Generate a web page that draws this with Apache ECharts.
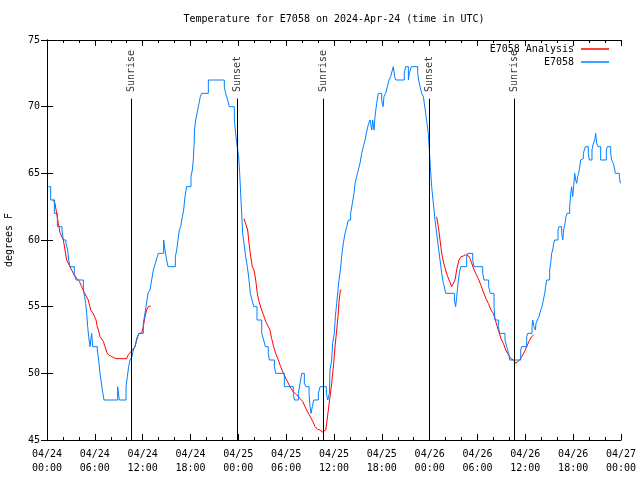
<!DOCTYPE html>
<html><head><meta charset="utf-8">
<script src="https://cdn.jsdelivr.net/npm/echarts@6/dist/echarts.min.js"></script>
<style>html,body{margin:0;padding:0;background:#fff}#c{width:640px;height:480px}</style>
</head><body><div id="c"></div>
<script>
const titleText = 'Temperature for E7058 on 2024-Apr-24 (time in UTC)';
const yAxisName = 'degrees F';
const xTickLabels = ['04/24\n00:00','04/24\n06:00','04/24\n12:00','04/24\n18:00','04/25\n00:00','04/25\n06:00','04/25\n12:00','04/25\n18:00','04/26\n00:00','04/26\n06:00','04/26\n12:00','04/26\n18:00','04/27\n00:00'];
const analysisName = 'E7058 Analysis';
const stationName = 'E7058';

// hours since 2024-04-24 00:00 UTC, degrees F
const redDay1 = [[0.79,63.05],[1.0,62.75],[1.21,62],[1.42,61.25],[1.63,60.55],[1.88,60.4],[2.05,60],[2.26,59.25],[2.47,58.5],[2.72,58.2],[2.97,57.9],[3.22,57.6],[3.51,57.25],[3.81,57.1],[4.06,56.9],[4.35,56.5],[4.64,56.1],[4.89,56.05],[5.18,55.5],[5.48,54.75],[5.73,54.55],[5.94,54.4],[6.15,54],[6.31,53.5],[6.52,53.1],[6.65,52.75],[6.82,52.6],[7.07,52.4],[7.28,52],[7.48,51.6],[7.7,51.4],[7.99,51.3],[8.32,51.2],[8.66,51.1],[10.0,51.1],[10.2,51.4],[10.5,51.6],[10.75,51.75],[11.04,52],[11.33,52.75],[11.58,53],[11.87,53],[12.08,53.5],[12.29,54.25],[12.5,54.75],[12.71,55],[13.0,55.05]];
const redDay2 = [[24.71,61.6],[25.17,60.75],[25.34,59.75],[25.55,58.75],[25.76,58],[25.97,57.75],[26.18,57],[26.38,56],[26.59,55.4],[26.84,54.9],[27.14,54.4],[27.43,53.9],[27.76,53.5],[27.97,53.25],[28.18,52.6],[28.43,52],[28.68,51.5],[29.02,51],[29.31,50.5],[29.65,50],[30.06,49.5],[30.48,49],[30.9,48.6],[31.32,48.4],[31.74,48.1],[32.07,47.9],[32.36,47.5],[32.7,47.1],[33.03,46.75],[33.33,46.4],[33.62,46],[33.95,45.8],[34.25,45.75],[34.54,45.6],[34.79,45.55],[34.96,45.75],[35.08,46.25],[35.29,47.25],[35.5,48.25],[35.71,49.25],[35.96,50.75],[36.13,52],[36.34,53.25],[36.5,54.25],[36.63,55.4],[36.8,56.25],[36.92,56.25]];
const redDay3 = [[48.88,61.75],[49.09,61],[49.3,60],[49.51,59],[49.76,58.25],[50.01,57.75],[50.26,57.25],[50.51,56.9],[50.76,56.5],[50.93,56.4],[51.18,57],[51.43,57.9],[51.68,58.5],[51.93,58.75],[52.22,58.8],[52.52,58.9],[52.77,58.95],[52.98,58.75],[53.19,58.4],[53.48,57.9],[53.77,57.5],[54.1,57.1],[54.44,56.6],[54.73,56.1],[55.07,55.6],[55.36,55.25],[55.7,54.75],[55.99,54.5],[56.28,53.9],[56.61,53.25],[56.95,52.6],[57.24,52.25],[57.54,51.75],[57.87,51.4],[58.2,51.1],[58.54,51],[58.79,50.75],[59.04,50.75],[59.29,51],[59.54,51.25],[59.88,51.6],[60.17,52],[60.46,52.4],[60.8,52.75],[61.05,52.9]];

const blueDay1 = [[0.17,64],[0.46,63],[0.92,62],[1.3,61],[1.88,60.75],[2.05,60],[2.38,59.75],[2.59,59.25],[2.72,58.5],[2.88,58],[3.43,57.5],[3.64,57],[4.56,56.25],[4.72,55.75],[4.85,55.25],[4.98,54.5],[5.1,53.5],[5.23,52.75],[5.39,52],[5.6,53],[5.73,52],[6.31,51.75],[6.48,51],[6.6,50.25],[6.77,49.5],[6.94,48.75],[7.15,48],[8.86,49],[9.07,48],[9.91,49],[10.08,49.75],[10.24,50.5],[10.41,51],[10.66,51.25],[10.83,51.75],[11.04,52],[11.25,52.5],[11.5,53],[12.08,53.75],[12.29,54.5],[12.42,55],[12.67,56],[12.92,56.25],[13.13,57],[13.34,57.75],[13.59,58.25],[13.84,58.75],[13.96,59],[14.63,60],[14.8,59.25],[15.01,58.5],[15.18,58],[16.1,58.75],[16.27,59.25],[16.43,60],[16.6,60.75],[16.77,61],[16.98,61.75],[17.14,62.25],[17.31,63.25],[17.52,64],[18.06,64.75],[18.23,65.25],[18.35,66],[18.44,67],[18.5,68.25],[18.65,69],[18.9,69.75],[19.07,70.25],[19.23,70.75],[19.4,71],[20.24,72],[22.24,71.5],[22.41,71],[22.66,70.5],[22.87,70],[23.5,69],[23.62,68.25],[23.75,67.5],[23.92,66.75]];
const blueDay2 = [[24.04,66.25],[24.17,65],[24.29,63.5],[24.42,62],[24.54,60.5],[24.71,59.75],[24.92,58.75],[25.13,58],[25.34,57],[25.51,56],[25.72,55.5],[25.93,55],[26.34,54],[26.93,53],[27.18,52.5],[27.39,52],[27.76,51.5],[27.89,51],[28.52,50.5],[28.68,50],[29.77,49],[30.9,48.5],[31.03,48],[31.53,48.5],[31.74,49.25],[31.95,50],[32.28,49.25],[32.49,49],[32.87,48.5],[32.99,47.5],[33.12,47],[33.28,47.5],[33.45,48],[34.04,48.5],[34.25,49],[35.04,48.5],[35.21,48],[35.42,48.5],[35.5,50.25],[35.71,51],[35.83,52.25],[36.04,53],[36.17,54.25],[36.34,55.25],[36.5,56.25],[36.63,57],[36.8,57.75],[36.96,58.75],[37.17,59.75],[37.38,60.5],[37.59,61],[37.8,61.5],[38.09,62],[38.3,62.75],[38.51,63.5],[38.64,64.25],[38.84,64.75],[39.05,65.25],[39.26,65.75],[39.47,66.5],[39.68,67],[39.89,67.5],[40.14,68.25],[40.35,68.75],[40.52,69],[40.73,68.25],[40.85,69],[41.02,68.25],[41.14,69.25],[41.35,70.25],[41.56,71],[41.98,70.5],[42.15,70],[42.27,70.75],[42.48,71],[42.69,71.5],[42.9,72],[43.11,72.25],[43.32,72.75],[43.44,73],[43.61,72.25],[43.74,72],[44.82,72.5],[44.99,73],[45.33,72],[45.45,72.5],[45.7,73],[46.5,72.5],[46.62,72],[46.79,71.5],[47.0,71],[47.21,70.75],[47.33,70.25],[47.5,69.5],[47.67,68.75],[47.83,68]];
const blueDay3 = [[47.96,66.75],[48.08,65.5],[48.25,64],[48.42,63],[48.67,61.5],[48.88,60.5],[49.09,59.5],[49.3,58.5],[49.51,57.5],[49.72,56.75],[49.93,56.25],[50.01,56],[51.1,55.5],[51.26,55],[51.39,55.75],[51.56,56.75],[51.72,57.5],[51.89,58],[52.64,58.75],[52.77,59],[53.4,58.5],[53.56,58],[54.65,57.5],[54.82,57],[55.4,56.5],[55.61,56],[56.07,55],[56.2,54],[56.61,53.5],[56.78,53],[57.45,52.5],[57.66,52],[57.91,51.5],[58.04,51],[59.42,51.75],[59.54,52],[60.17,52.75],[60.3,53],[60.84,53.5],[60.92,54],[61.09,53.5],[61.26,53.25],[61.34,53.75],[61.51,54],[61.72,54.25],[61.93,54.75],[62.09,55],[62.26,55.5],[62.43,56],[62.55,56.5],[62.68,57],[63.05,57.75],[63.18,58.25],[63.3,59],[63.43,59.25],[63.56,59.75],[63.68,60],[64.1,60.75],[64.23,61],[64.56,60.5],[64.69,60],[64.81,60.75],[64.98,61.25],[65.1,61.75],[65.23,62],[65.56,62.5],[65.69,63.5],[65.81,64],[65.94,63.25],[66.06,64],[66.19,65],[66.32,64.5],[66.44,64.25],[66.57,64.75],[66.69,65],[66.82,65.5],[66.94,66],[67.11,66.1],[67.28,66.5],[67.4,66.75],[67.53,67],[67.9,66.5],[68.03,66],[68.36,66.75],[68.53,67.25],[68.7,67.5],[68.82,68],[68.95,67.25],[69.12,67],[69.45,66],[70.16,66.75],[70.29,67],[70.71,66.5],[70.83,66],[71.04,65.75],[71.17,65.4],[71.29,65],[71.79,64.75],[71.92,64.25],[72,64.25]];

const eventHours = [10.58, 23.88, 34.64, 47.96, 58.6];
const eventNames = ['Sunrise', 'Sunset', 'Sunrise', 'Sunset', 'Sunrise'];
const eventLineTop = 70.6;
const eventLabelBase = 71.1;

const FONT = '"DejaVu Sans Mono", "Liberation Mono", monospace';
const txt = {fontFamily: FONT, fontSize: 10, color: '#000'};

const redData = redDay1.concat([[18, '-']], redDay2, [[42, '-']], redDay3);
const blueData = blueDay1.concat(blueDay2, blueDay3);

const axisCommonX = {
  type: 'value', min: 0, max: 72, interval: 6,
  axisLine: {show: true, lineStyle: {color: '#000', width: 1}},
  axisTick: {show: true, inside: true, length: 6, lineStyle: {color: '#000'}},
  minorTick: {show: true, splitNumber: 3, length: 3, lineStyle: {color: '#000'}},
  splitLine: {show: false}, minorSplitLine: {show: false}
};
const axisCommonY = {
  type: 'value', min: 45, max: 75, interval: 5,
  axisLine: {show: true, lineStyle: {color: '#000', width: 1}},
  axisTick: {show: true, inside: true, length: 6, lineStyle: {color: '#000'}},
  splitLine: {show: false}
};

const legendCommon = {right: 31, align: 'right', orient: 'vertical', padding: 0,
  icon: 'rect', itemWidth: 28, itemHeight: 1.5,
  textStyle: Object.assign({padding: [0, 2, 0, 0]}, txt)};

const chart = echarts.init(document.getElementById('c'), null, {renderer: 'canvas'});
chart.setOption({
  animation: false,
  backgroundColor: '#fff',
  title: {text: titleText, left: 334, top: 14, textAlign: 'center', padding: 0,
    textStyle: Object.assign({fontWeight: 'normal'}, txt)},
  legend: [
    Object.assign({data: [analysisName], top: 44}, legendCommon),
    Object.assign({data: [stationName], top: 57}, legendCommon)
  ],
  grid: {left: 47, right: 19, top: 40, bottom: 40, containLabel: false, outerBoundsMode: 'none'},
  xAxis: [
    Object.assign({}, axisCommonX, {position: 'bottom',
      axisLabel: Object.assign({margin: 7, lineHeight: 14,
        formatter: v => xTickLabels[Math.round(v / 6)] || ''}, txt)}),
    Object.assign({}, axisCommonX, {position: 'top', axisLabel: {show: false}})
  ],
  yAxis: [
    Object.assign({}, axisCommonY, {position: 'left', name: yAxisName, nameLocation: 'middle',
      nameGap: 33, nameRotate: 90, nameTextStyle: txt,
      axisLabel: Object.assign({margin: 7}, txt)}),
    Object.assign({}, axisCommonY, {position: 'right', axisLabel: {show: false}})
  ],
  series: [
    {type: 'scatter', name: 'events', data: eventHours.map(h => [h, eventLabelBase]),
      symbolSize: 1, itemStyle: {color: 'transparent'}, z: 1, silent: true,
      label: Object.assign({show: true, position: 'inside', rotate: 90, align: 'left', verticalAlign: 'middle',
        formatter: p => eventNames[p.dataIndex]}, txt),
      markLine: {silent: true, symbol: 'none', animation: false, label: {show: false},
        lineStyle: {color: '#000', width: 1, type: 'solid'},
        data: eventHours.map(h => [{coord: [h, eventLineTop]}, {coord: [h, 45]}])}
    },
    {type: 'line', name: analysisName, data: redData, symbol: 'none', connectNulls: false,
      lineStyle: {color: '#ff0000', width: 1}, itemStyle: {color: '#ff0000'}, z: 2},
    {type: 'line', name: stationName, data: blueData, step: 'end', symbol: 'none',
      lineStyle: {color: '#0080ff', width: 1}, itemStyle: {color: '#0080ff'}, z: 3}
  ]
});
</script></body></html>
